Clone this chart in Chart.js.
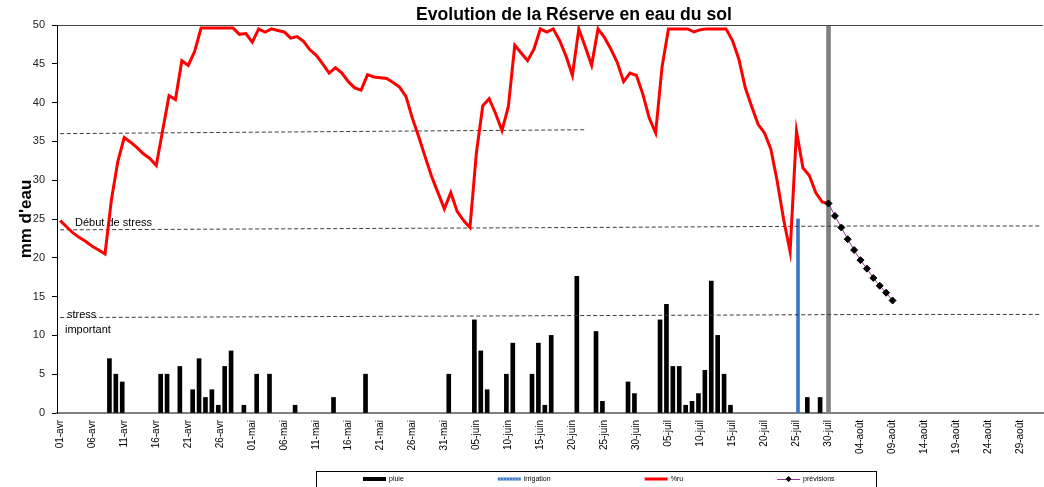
<!DOCTYPE html>
<html lang="fr">
<head>
<meta charset="utf-8">
<title>Evolution de la Réserve en eau du sol</title>
<script src="https://cdn.jsdelivr.net/npm/chart.js@4.4.1/dist/chart.umd.min.js"></script>
<style>
  html, body { margin: 0; padding: 0; background: #fff; }
  #cadre { position: relative; width: 1044px; height: 487px; }
</style>
</head>
<body>
<div id="cadre"><canvas id="reserveChart"></canvas></div>
<script>
// Axe des dates : un libellé par jour, du 01-avr au 01-sept
var mois = ['avr', 'mai', 'juin', 'juil', 'août', 'sept']
var joursParMois = [30, 31, 30, 31, 31, 1]
var jours = []
for (var m = 0; m < mois.length; m++) {
  for (var d = 1; d <= joursParMois[m]; d++) {
    jours.push((d < 10 ? '0' + d : '' + d) + '-' + mois[m])
  }
}

// %ru : réserve en eau du sol, un point par jour du 01-avr au 30-juil
var ru = [
  24.8, 24.0, 23.2, 22.6, 22.1, 21.5, 21.0, 20.5, 27.5, 32.4,
  35.5, 34.9, 34.2, 33.4, 32.8, 31.9, 36.4, 40.9, 40.4, 45.4,
  44.8, 46.6, 49.6, 49.6, 49.6, 49.6, 49.6, 49.6, 48.8, 48.9,
  47.8, 49.5, 49.1, 49.5, 49.3, 49.1, 48.3, 48.5, 47.9, 46.8,
  46.1, 45.0, 43.8, 44.5, 43.8, 42.7, 41.9, 41.6, 43.6, 43.3,
  43.2, 43.1, 42.6, 42.0, 40.8, 38.0, 35.6, 33.0, 30.5, 28.4,
  26.3, 28.4, 26.0, 24.8, 23.9, 33.5, 39.6, 40.5, 38.6, 36.4,
  39.5, 47.4, 46.4, 45.4, 46.9, 49.5, 49.1, 49.5, 48.0, 46.0,
  43.5, 49.5, 47.2, 44.8, 49.5, 48.4, 46.9, 45.2, 42.7, 43.8,
  43.5, 41.1, 38.0, 36.1, 44.6, 49.5, 49.5, 49.5, 49.5, 49.1,
  49.4, 49.5, 49.5, 49.5, 49.5, 48.0, 45.6, 41.9, 39.5, 37.2,
  36.1, 34.0, 29.8, 24.9, 20.8, 36.3, 31.6, 30.6, 28.4, 27.2,
  27.0
]

// pluie (mm)
var pluieJours = ['09-avr', '10-avr', '11-avr', '17-avr', '18-avr', '20-avr', '22-avr', '23-avr',
  '24-avr', '25-avr', '26-avr', '27-avr', '28-avr', '30-avr', '02-mai', '04-mai', '08-mai',
  '14-mai', '19-mai', '01-juin', '05-juin', '06-juin', '07-juin', '10-juin', '11-juin', '14-juin',
  '15-juin', '16-juin', '17-juin', '21-juin', '24-juin', '25-juin', '29-juin', '30-juin', '04-juil',
  '05-juil', '06-juil', '07-juil', '08-juil', '09-juil', '10-juil', '11-juil', '12-juil', '13-juil',
  '14-juil', '15-juil', '27-juil', '29-juil']
var pluieMm = [7, 5, 4, 5, 5, 6, 3, 7,
  2, 3, 1, 6, 8, 1, 5, 5, 1,
  2, 5, 5, 12, 8, 3, 5, 9, 5,
  9, 1, 10, 17.6, 10.5, 1.5, 4, 2.5, 12,
  14, 6, 6, 1, 1.5, 2.5, 5.5, 17, 10,
  5, 1, 2, 2]

// irrigation (mm)
var irrigationJours = ['25-juil']
var irrigationMm = [25]

// prévisions
var previsionJours = ['30-juil', '31-juil', '01-août', '02-août', '03-août', '04-août',
  '05-août', '06-août', '07-août', '08-août', '09-août']
var previsionMm = [27.0, 25.4, 23.9, 22.4, 21.0, 19.7, 18.6, 17.4, 16.4, 15.5, 14.5]

// seuils (traits pointillés)
var seuilRuJours = ['01-avr', '22-juin']
var seuilRu = [36.0, 36.5]
var debutStressJours = ['01-avr', '20-juin', '04-août', '01-sept']
var debutStress = [23.6, 23.9, 24.1, 24.1]
var stressImportantJours = ['01-avr', '05-juin', '08-août', '01-sept']
var stressImportant = [12.3, 12.5, 12.7, 12.7]

// jour de la simulation (trait gris vertical)
var aujourdhuiJours = ['30-juil']
var aujourdhuiMm = [50]

var titre = 'Evolution de la Réserve en eau du sol'
var police = '"Liberation Sans", Arial, sans-serif'

function points(x, y) {
  return x.map(function (j, i) {
    return { x: j, y: y[i] }
  })
}

// titre, cadre du haut et textes dans le graphique
var habillage = {
  id: 'habillage',
  beforeDatasetsDraw: function (chart) {
    var ctx = chart.ctx
    var a = chart.chartArea
    ctx.save()
    ctx.fillStyle = '#000'
    ctx.font = '11px ' + police
    ctx.textAlign = 'left'
    ctx.textBaseline = 'alphabetic'
    ctx.fillText('Début de stress', a.left + 18, 226)
    ctx.fillText('stress', a.left + 10, 318)
    ctx.fillText('important', a.left + 8, 333)
    ctx.restore()
  },
  afterDraw: function (chart) {
    var ctx = chart.ctx
    var a = chart.chartArea
    ctx.save()
    ctx.strokeStyle = '#444'
    ctx.lineWidth = 1
    ctx.beginPath()
    ctx.moveTo(a.left, a.top + 0.5)
    ctx.lineTo(a.right, a.top + 0.5)
    ctx.stroke()

    ctx.fillStyle = '#000'
    ctx.font = 'bold 17.6px ' + police
    ctx.textAlign = 'center'
    ctx.fillText(titre, 574, 20)
    ctx.restore()
  }
}

// légende encadrée sous le graphique
var legende = {
  id: 'legende',
  afterDraw: function (chart) {
    var ctx = chart.ctx
    ctx.save()
    ctx.strokeStyle = '#000'
    ctx.lineWidth = 1
    ctx.strokeRect(316.5, 471.5, 560, 30)
    ctx.font = '7px ' + police
    ctx.textBaseline = 'middle'
    ctx.textAlign = 'left'
    var x = 363
    var y = 479
    chart.data.datasets.forEach(function (ds) {
      if (!ds.enLegende) return
      ctx.save()
      if (ds.label === 'pluie') {
        ctx.fillStyle = '#000'
        ctx.fillRect(x, y - 2, 23, 4)
      } else if (ds.label === 'irrigation') {
        ctx.fillStyle = '#3a78c8'
        ctx.fillRect(x, y - 1.5, 23, 3)
        ctx.fillStyle = '#fff'
        for (var k = 2; k < 23; k += 3) ctx.fillRect(x + k, y - 0.5, 1, 1)
      } else if (ds.label === '%ru') {
        ctx.fillStyle = '#ff0000'
        ctx.fillRect(x, y - 1.5, 23, 3)
      } else {
        ctx.strokeStyle = '#993399'
        ctx.lineWidth = 1
        ctx.beginPath()
        ctx.moveTo(x, y + 0.5)
        ctx.lineTo(x + 23, y + 0.5)
        ctx.stroke()
        ctx.fillStyle = '#000'
        ctx.beginPath()
        ctx.moveTo(x + 11.5, y - 3)
        ctx.lineTo(x + 14.5, y)
        ctx.lineTo(x + 11.5, y + 3)
        ctx.lineTo(x + 8.5, y)
        ctx.closePath()
        ctx.fill()
      }
      ctx.restore()
      ctx.fillStyle = '#000'
      ctx.fillText(ds.label, x + 26, y)
      x += 26 + ctx.measureText(ds.label).width + 94
    })
    ctx.restore()
  }
}

document.addEventListener('DOMContentLoaded', function () {
  var ctx = document.getElementById('reserveChart').getContext('2d')

  var reserveChart = new Chart(ctx, {
    type: 'bar',
    data: {
      labels: jours,
      datasets: [
        {
          label: 'pluie',
          enLegende: true,
          data: points(pluieJours, pluieMm),
          backgroundColor: '#000',
          barThickness: 4,
          order: 5
        },
        {
          label: 'irrigation',
          enLegende: true,
          data: points(irrigationJours, irrigationMm),
          backgroundColor: '#3a78c8',
          barThickness: 3,
          order: 5
        },
        {
          label: "aujourd'hui",
          data: points(aujourdhuiJours, aujourdhuiMm),
          backgroundColor: '#808080',
          grouped: false,
          barThickness: 4,
          maxBarThickness: 4,
          order: 6
        },
        {
          type: 'line',
          label: 'réserve utile',
          data: points(seuilRuJours, seuilRu),
          borderColor: '#3a3a3a',
          borderWidth: 1,
          borderDash: [4, 2.5],
          pointRadius: 0,
          order: 4
        },
        {
          type: 'line',
          label: 'début de stress',
          data: points(debutStressJours, debutStress),
          borderColor: '#3a3a3a',
          borderWidth: 1,
          borderDash: [4, 2.5],
          pointRadius: 0,
          order: 4
        },
        {
          type: 'line',
          label: 'stress important',
          data: points(stressImportantJours, stressImportant),
          borderColor: '#3a3a3a',
          borderWidth: 1,
          borderDash: [4, 2.5],
          pointRadius: 0,
          order: 4
        },
        {
          type: 'line',
          label: '%ru',
          enLegende: true,
          data: ru,
          borderColor: '#ff0000',
          borderWidth: 3,
          pointRadius: 0,
          tension: 0,
          order: 2
        },
        {
          type: 'line',
          label: 'prévisions',
          enLegende: true,
          data: points(previsionJours, previsionMm),
          borderColor: '#993399',
          borderWidth: 1,
          pointStyle: 'rectRot',
          pointRadius: 3.5,
          pointBackgroundColor: '#000',
          pointBorderColor: '#000',
          pointBorderWidth: 1,
          tension: 0,
          order: 1
        }
      ]
    },
    options: {
      responsive: true,
      maintainAspectRatio: false,
      animation: false,
      devicePixelRatio: 1,
      // pas de marge automatique pour les marqueurs : la zone de tracé va jusqu'au bord droit
      layout: { autoPadding: false, padding: { top: 25, right: 1, left: 0, bottom: 0 } },
      plugins: {
        legend: { display: false },
        title: { display: false },
        tooltip: { enabled: false }
      },
      scales: {
        x: {
          offset: true,
          grid: { display: false, drawTicks: false },
          border: { display: true, color: '#808080', width: 2 },
          ticks: {
            autoSkip: false,
            minRotation: 90,
            maxRotation: 90,
            padding: 7,
            color: '#000',
            font: { size: 10, family: police },
            callback: function (v, i) {
              return i % 5 === 0 ? jours[i] : ''
            }
          },
          afterFit: function (s) {
            // hauteur fixe, sans marge pour les libellés des extrémités
            s.height = 74
            s.paddingLeft = 0
            s.paddingRight = 0
          }
        },
        y: {
          min: 0,
          max: 50,
          grid: { display: true, drawOnChartArea: false, drawTicks: true, tickLength: 5, color: '#000' },
          border: { display: true, color: '#000', width: 1 },
          ticks: {
            stepSize: 5,
            padding: 7,
            color: '#222',
            font: { size: 11, family: police }
          },
          title: {
            display: true,
            text: "mm d'eau",
            color: '#000',
            font: { size: 17, weight: 'bold', family: police },
            padding: { top: 16, bottom: 0 }
          },
          afterFit: function (s) {
            s.width = 57
            s.paddingTop = 0
            s.paddingBottom = 0
          }
        }
      }
    },
    plugins: [habillage, legende]
  })
})
</script>
</body>
</html>
